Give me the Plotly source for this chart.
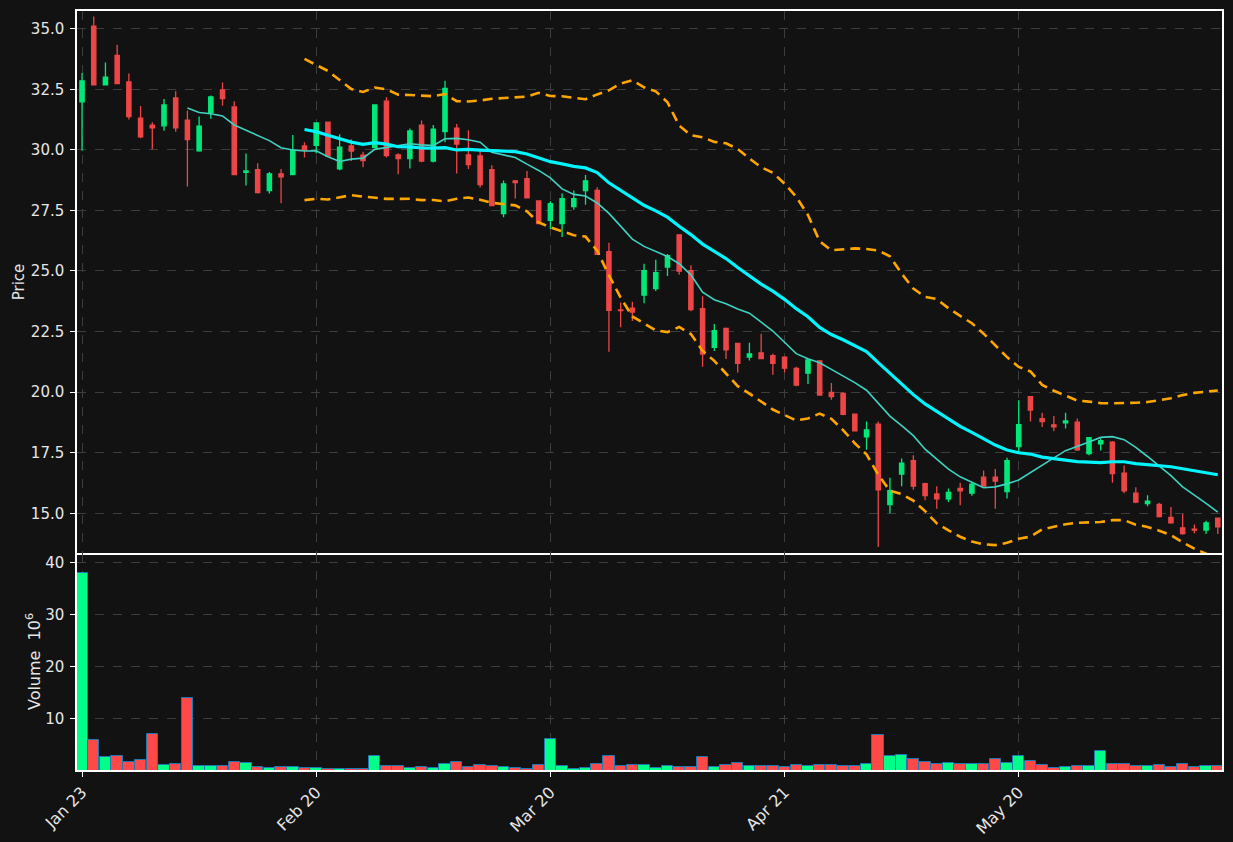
import pandas as pd
import plotly.graph_objects as go

# ---- data (one bar per trading session) ----
opens = [31.98, 35.10, 32.68, 33.90, 32.80, 31.31, 31.02, 30.99, 32.14, 31.22,
         29.96, 31.55, 32.47, 31.77, 29.07, 29.18, 28.32, 29.01, 28.98, 30.16,
         30.18, 31.14, 29.21, 30.16, 29.78, 30.09, 32.01, 29.79, 29.64, 31.02,
         29.54, 30.75, 30.89, 29.79, 29.75, 29.18, 27.37, 28.72, 28.81, 27.89,
         27.09, 26.96, 27.66, 28.32, 28.33, 25.80, 23.39, 23.47, 24.00, 24.27,
         25.16, 26.49, 25.01, 23.45, 21.85, 22.63, 22.01, 21.45, 21.62, 21.51,
         21.44, 20.98, 20.79, 21.29, 19.99, 19.95, 19.09, 18.15, 18.68, 15.36,
         16.62, 17.17, 16.22, 15.80, 15.60, 16.03, 15.83, 16.49, 16.49, 15.89,
         17.75, 19.81, 18.91, 18.65, 18.73, 18.76, 17.46, 17.86, 17.93, 16.66,
         15.83, 15.40, 15.37, 14.83, 14.40, 14.34, 14.31, 14.80]
highs = [33.17, 35.50, 33.60, 34.34, 33.15, 31.81, 31.14, 32.10, 32.42, 31.62,
         31.38, 32.24, 32.78, 32.00, 29.85, 29.45, 29.08, 29.21, 30.61, 30.31,
         31.11, 31.14, 30.64, 30.44, 29.92, 31.85, 32.17, 29.86, 30.88, 31.21,
         31.02, 32.85, 31.07, 30.81, 29.99, 29.36, 28.73, 28.75, 29.13, 27.92,
         27.88, 28.20, 28.32, 28.96, 28.46, 26.16, 23.70, 23.73, 25.30, 25.46,
         25.70, 26.49, 25.24, 23.96, 22.81, 22.67, 22.01, 22.04, 22.41, 21.58,
         21.48, 21.05, 21.37, 21.29, 20.38, 20.01, 19.12, 18.79, 18.79, 16.47,
         17.26, 17.39, 16.26, 16.12, 16.02, 16.26, 16.29, 16.76, 16.83, 17.29,
         19.66, 19.81, 19.15, 19.01, 19.15, 18.91, 18.15, 18.09, 17.98, 16.97,
         16.07, 15.74, 15.43, 15.26, 14.97, 14.54, 14.69, 14.80]
lows = [29.96, 32.68, 32.68, 32.73, 31.25, 30.48, 30.02, 30.79, 30.75, 28.49,
        29.92, 31.28, 31.82, 28.98, 28.53, 28.20, 28.20, 27.80, 28.98, 29.68,
        29.85, 29.74, 29.16, 29.54, 29.28, 30.09, 29.68, 28.99, 29.23, 29.49,
        29.48, 30.31, 29.02, 29.21, 28.45, 27.69, 27.22, 27.99, 27.99, 26.96,
        26.73, 26.40, 27.53, 27.73, 25.69, 21.67, 22.68, 22.94, 23.67, 24.17,
        24.79, 24.84, 23.34, 21.05, 21.70, 21.37, 20.81, 21.31, 21.38, 20.72,
        20.81, 20.24, 20.34, 19.88, 19.69, 19.05, 18.38, 17.62, 13.61, 15.00,
        16.12, 15.97, 15.54, 15.19, 15.46, 15.33, 15.72, 16.12, 15.19, 15.61,
        17.47, 18.79, 18.56, 18.38, 18.50, 17.57, 17.39, 17.59, 16.26, 15.83,
        15.41, 15.29, 14.83, 14.57, 14.11, 14.17, 14.14, 14.14]
closes = [32.85, 32.68, 33.00, 32.73, 31.37, 30.54, 30.91, 31.85, 30.91, 30.42,
          30.98, 32.18, 32.11, 28.98, 29.13, 28.23, 29.01, 28.89, 29.99, 29.99,
          31.11, 29.74, 30.11, 29.95, 29.56, 31.85, 29.76, 29.64, 30.78, 29.54,
          30.85, 32.54, 30.24, 29.39, 28.56, 27.70, 28.59, 28.65, 28.02, 26.96,
          27.78, 27.98, 27.98, 28.72, 25.69, 23.38, 23.36, 23.30, 25.01, 24.93,
          25.63, 24.99, 23.41, 21.57, 22.54, 21.74, 21.19, 21.58, 21.38, 21.19,
          20.99, 20.29, 21.33, 19.88, 19.81, 19.08, 18.40, 18.44, 15.97, 15.93,
          17.07, 16.12, 15.73, 15.60, 15.86, 15.93, 16.20, 16.12, 16.33, 17.17,
          18.66, 19.26, 18.78, 18.57, 18.81, 17.62, 18.12, 18.00, 16.64, 15.93,
          15.46, 15.50, 14.86, 14.60, 14.16, 14.30, 14.60, 14.44]
volumes = [38.08, 5.90, 2.63, 2.82, 1.67, 2.05, 7.12, 1.09, 1.28, 13.97,
           0.83, 0.83, 0.83, 1.67, 1.47, 0.70, 0.51, 0.70, 0.70, 0.51,
           0.51, 0.30, 0.25, 0.25, 0.25, 2.82, 0.83, 0.83, 0.51, 0.70,
           0.51, 1.28, 1.67, 0.70, 1.09, 0.90, 0.70, 0.51, 0.30, 1.09,
           6.09, 0.90, 0.30, 0.51, 1.28, 2.82, 0.90, 1.09, 1.09, 0.51,
           0.90, 0.70, 0.70, 2.69, 0.70, 1.09, 1.54, 0.90, 0.90, 0.90,
           0.70, 1.09, 0.90, 1.09, 1.09, 0.90, 0.90, 1.35, 6.92, 2.82,
           3.01, 2.24, 1.73, 1.28, 1.54, 1.28, 1.28, 1.28, 2.24, 1.54,
           2.82, 1.92, 1.09, 0.51, 0.70, 0.90, 0.90, 3.78, 1.28, 1.28,
           0.90, 0.90, 1.09, 0.70, 1.28, 0.70, 0.90, 0.90]
tick_positions = [0, 20, 40, 60, 80]
tick_labels = ["Jan 23", "Feb 20", "Mar 20", "Apr 21", "May 20"]

x = list(range(len(closes)))

# indicators derived from the closes (10/20-period SMA, 20-period Bollinger bands)
cs = pd.Series(closes)
ma10 = cs.rolling(10).mean()
ma20 = cs.rolling(20).mean()
sd20 = cs.rolling(20).std(ddof=0)
bb_up = ma20 + 2 * sd20
bb_lo = ma20 - 2 * sd20

UP_C, DN_C = "#00e87a", "#ec4646"
VUP_C, VDN_C = "#00ff88", "#ff4848"
vol_colors = [VUP_C if c >= o else VDN_C for o, c in zip(opens, closes)]

fig = go.Figure()
fig.add_trace(go.Candlestick(
    x=x, open=opens, high=highs, low=lows, close=closes,
    increasing=dict(line=dict(color=UP_C, width=1.3), fillcolor=UP_C),
    decreasing=dict(line=dict(color=DN_C, width=1.3), fillcolor=DN_C),
    whiskerwidth=0, xaxis="x", yaxis="y", showlegend=False, name="Price"))
fig.add_trace(go.Scatter(x=x, y=ma10, mode="lines", line=dict(color="#3fd2c2", width=1.6),
                         xaxis="x", yaxis="y", showlegend=False, name="MA10"))
fig.add_trace(go.Scatter(x=x, y=ma20, mode="lines", line=dict(color="#00f5ff", width=3.2),
                         xaxis="x", yaxis="y", showlegend=False, name="MA20"))
fig.add_trace(go.Scatter(x=x, y=bb_up, mode="lines",
                         line=dict(color="#ffa500", width=2.6, dash="10px,6px"),
                         xaxis="x", yaxis="y", showlegend=False, name="BB upper"))
fig.add_trace(go.Scatter(x=x, y=bb_lo, mode="lines",
                         line=dict(color="#ffa500", width=2.6, dash="10px,6px"),
                         xaxis="x", yaxis="y", showlegend=False, name="BB lower"))
fig.add_trace(go.Bar(x=x, y=volumes, marker=dict(color=vol_colors, line=dict(color="#1f77b4", width=1)),
                     width=0.98, xaxis="x2", yaxis="y2", showlegend=False, name="Volume"))

BG = "#121212"
FONT = dict(family="DejaVu Sans", size=15, color="#e6e6e6")
TITLE_FONT = dict(family="DejaVu Sans", size=16, color="#e6e6e6")
XTICK_FONT = dict(family="DejaVu Sans", size=16, color="#e6e6e6")
GRID = dict(showgrid=True, gridcolor="#3d3d3d", griddash="dash", gridwidth=1)
LINE = dict(showline=True, linecolor="#ffffff", linewidth=1.5, zeroline=False, automargin=False)
XR = [-0.43, 97.36]
split = (770 - 553) / (842 - 11 - 72)

fig.update_layout(
    width=1233, height=842,
    paper_bgcolor=BG, plot_bgcolor=BG, font=FONT,
    margin=dict(l=77, r=11, t=11, b=72, autoexpand=False),
    boxgap=0.48, bargap=0,
    showlegend=False,
    xaxis=dict(domain=[0, 1], anchor="y", range=XR, tickvals=tick_positions,
               showticklabels=False, ticks="", mirror=True,
               rangeslider=dict(visible=False), **GRID, **LINE),
    yaxis=dict(domain=[split, 1], anchor="x", range=[13.36, 35.73],
               tickvals=[15.0, 17.5, 20.0, 22.5, 25.0, 27.5, 30.0, 32.5, 35.0],
               tickformat=".1f", ticks="outside", ticklen=5, tickcolor="#ffffff",
               ticklabelstandoff=3, mirror=True,
               title=dict(text="Price", font=FONT, standoff=3), **GRID, **LINE),
    xaxis2=dict(domain=[0, 1], anchor="y2", range=XR, matches="x",
                tickvals=tick_positions, ticktext=tick_labels, tickangle=-45,
                tickfont=XTICK_FONT,
                ticks="outside", ticklen=5, tickcolor="#ffffff", mirror=False,
                rangeslider=dict(visible=False), **GRID, **LINE),
    yaxis2=dict(domain=[0, split], anchor="x2", range=[0.1, 41.92],
                tickvals=[10, 20, 30, 40], ticks="outside", ticklen=5, tickcolor="#ffffff",
                ticklabelstandoff=3, mirror=True,
                title=dict(text="Volume\u00a0\u00a010<sup>6</sup>", font=TITLE_FONT, standoff=1),
                **GRID, **LINE),
)

fig.write_html("out.html")
